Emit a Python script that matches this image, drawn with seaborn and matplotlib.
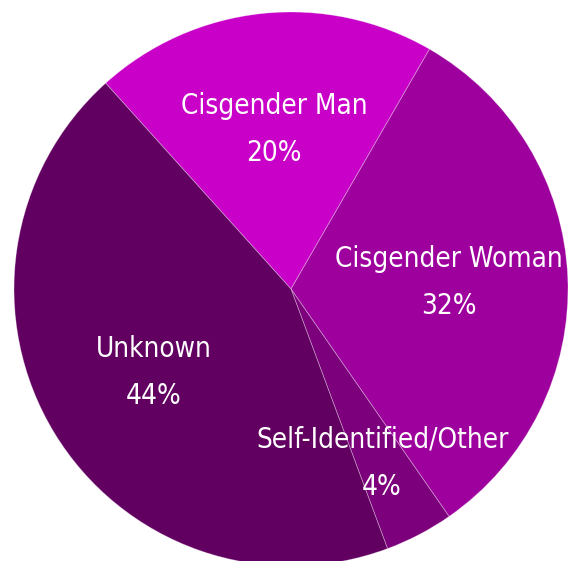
import numpy as np
import matplotlib
matplotlib.use("Agg")
import matplotlib.pyplot as plt
import seaborn as sns

sns.set_theme(style="white")
plt.rcParams['font.family'] = ['DejaVu Sans']
plt.rcParams['font.stretch'] = 'condensed'

# === Data ===
categories = ["Cisgender Man", "Cisgender Woman", "Self-Identified/Other", "Unknown"]
shares = [20, 32, 4, 44]
colors = ["#c800c8", "#9e009e", "#7c007c", "#620062"]
label_dist = [0.58, 0.57, 0.71, 0.58]

fig = plt.figure(figsize=(5.69, 5.61), dpi=100)
# axes sized so the pie sits at the reference position
ax = fig.add_axes([(291 - 277) / 569, (561 - 289 - 277) / 561, 554 / 569, 554 / 561])

wedges, _ = ax.pie(
    shares, colors=colors, startangle=132, counterclock=False,
    wedgeprops=dict(edgecolor=(1, 1, 1, 0.35), linewidth=0.6),
)
ax.set_xlim(-1, 1)
ax.set_ylim(-1, 1)
ax.set_aspect("auto")
ax.axis("off")

for w, cat, val, d in zip(wedges, categories, shares, label_dist):
    ang = np.deg2rad((w.theta1 + w.theta2) / 2)
    ax.text(d * np.cos(ang), d * np.sin(ang), f"{cat}\n{val}%",
            ha="center", va="center", color="white", fontsize=20,
            fontstretch="condensed", linespacing=1.85)

plt.savefig("out.png", dpi=100)
